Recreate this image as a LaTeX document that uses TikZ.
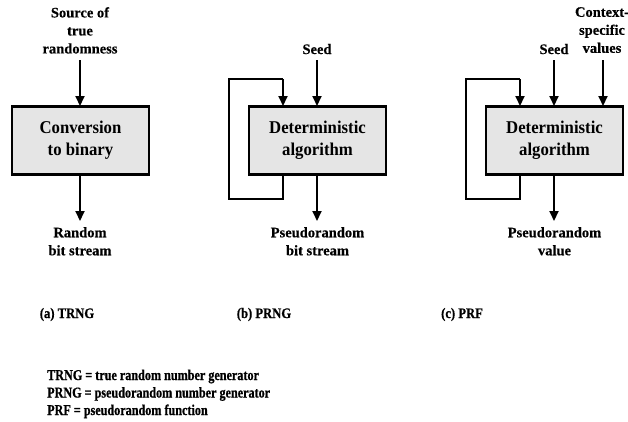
\documentclass[tikz,border=0pt]{standalone}
\usepackage{fontspec}
\setmainfont{Liberation Serif}
\newfontfamily\boxfont{Liberation Serif Bold}[FakeStretch=0.93]
\newfontfamily\lblfont{Liberation Serif Bold}[FakeBold=0.4]
\newfontfamily\capfont{Liberation Serif Bold}[FakeStretch=0.87, FakeBold=0.6]
\newfontfamily\legfont{Liberation Serif Bold}[FakeStretch=0.81, FakeBold=0.8]
\usetikzlibrary{arrows.meta}
\tikzset{
  procbox/.style={draw=black, line width=2.6pt, fill=black!10, minimum width=137pt, minimum height=68pt, inner sep=0pt},
  boxtext/.style={font=\boxfont\fontsize{18}{22}\selectfont, align=center},
  lbl/.style={font=\lblfont\fontsize{14.5}{18}\selectfont, align=center, inner sep=0pt},
  caption/.style={font=\capfont\fontsize{14.5}{18}\selectfont, inner sep=0pt},
  legend/.style={font=\legfont\fontsize{15}{18}\selectfont, inner sep=0pt},
  flow/.style={line width=1.9pt, -{Triangle[length=10pt,width=9pt]}},
  loopline/.style={line width=1.9pt}
}
\begin{document}
\begin{tikzpicture}[x=1pt,y=-1pt]
\useasboundingbox (0,0) rectangle (628,421);

% (a) true random number generator
\node[procbox] (ba) at (80.5,140.5) {};
\node[boxtext] at (ba) {Conversion\\to binary};
\node[lbl, anchor=north] (srca) at (80,7) {Source of\\true\\randomness};
\node[lbl, anchor=north] (outa) at (80,227) {Random\\bit stream};
\coordinate (ina) at (80,60);
\coordinate (ia) at (80,106);
\coordinate (oa) at (80,174);
\coordinate (ea) at (80,221);
\draw[flow] (ina) -- (ia);
\draw[flow] (oa) -- (ea);

% (b) pseudorandom number generator
\node[procbox] (bb) at (317.5,140.5) {};
\node[boxtext] at (bb) {Deterministic\\algorithm};
\node[lbl, anchor=base] (seedb) at (317,54) {Seed};
\node[lbl, anchor=north] (outb) at (317.5,227) {Pseudorandom\\bit stream};
\coordinate (sb) at (317,60);
\coordinate (ib) at (317,106);
\coordinate (ob) at (317,174);
\coordinate (eb) at (317,221);
\draw[flow] (sb) -- (ib);
\draw[flow] (ob) -- (eb);
\coordinate (fbb) at (283,106);
\draw[loopline] (283,174) -- (283,199) -- (229,199) -- (229,79) -- (283,79);
\draw[flow] (283,79) -- (fbb);

% (c) pseudorandom function
\node[procbox] (bc) at (554.5,140.5) {};
\node[boxtext] at (bc) {Deterministic\\algorithm};
\node[lbl, anchor=base] (seedc) at (554,54) {Seed};
\node[lbl, anchor=north] (ctxc) at (602,7) {Context-\\specific\\values};
\node[lbl, anchor=north] (outc) at (554.5,227) {Pseudorandom\\value};
\coordinate (sc) at (554,60);
\coordinate (ic) at (554,106);
\coordinate (xc) at (603,60);
\coordinate (jc) at (603,106);
\coordinate (oc) at (554,174);
\coordinate (ec) at (554,221);
\draw[flow] (sc) -- (ic);
\draw[flow] (xc) -- (jc);
\draw[flow] (oc) -- (ec);
\coordinate (fbc) at (520,106);
\draw[loopline] (520,174) -- (520,199) -- (466,199) -- (466,79) -- (520,79);
\draw[flow] (520,79) -- (fbc);

% captions
\node[caption, anchor=base] (capa) at (67,318) {(a) TRNG};
\node[caption, anchor=base] (capb) at (264,318) {(b) PRNG};
\node[caption, anchor=base] (capc) at (462,318) {(c) PRF};

% legend
\node[legend, anchor=base west] (lega) at (47,380) {TRNG = true random number generator};
\node[legend, anchor=base west] (legb) at (47,397.5) {PRNG = pseudorandom number generator};
\node[legend, anchor=base west] (legc) at (47,415) {PRF = pseudorandom function};
\end{tikzpicture}
\end{document}
